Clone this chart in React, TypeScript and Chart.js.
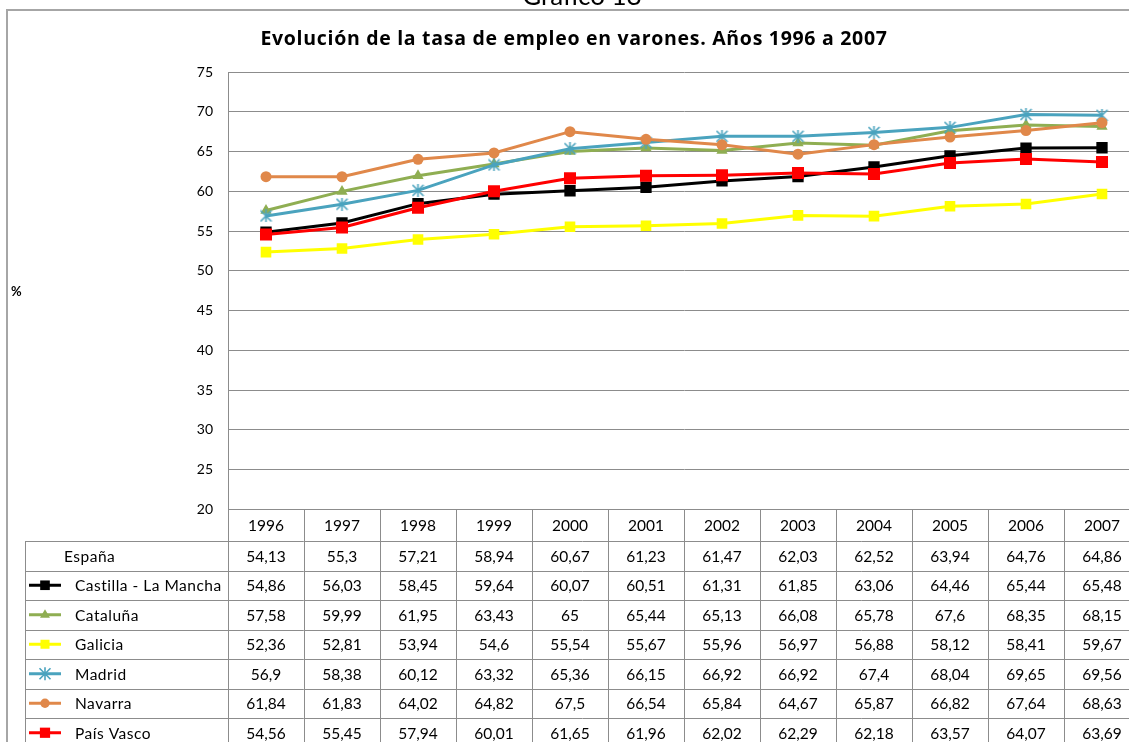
import React, { useEffect, useRef } from "react";
import { Chart, registerables } from "chart.js";

Chart.register(...registerables);

const years = ["1996", "1997", "1998", "1999", "2000", "2001", "2002", "2003", "2004", "2005", "2006", "2007"];
const espana = [54.13, 55.3, 57.21, 58.94, 60.67, 61.23, 61.47, 62.03, 62.52, 63.94, 64.76, 64.86];
const castilla = [54.86, 56.03, 58.45, 59.64, 60.07, 60.51, 61.31, 61.85, 63.06, 64.46, 65.44, 65.48];
const cataluna = [57.58, 59.99, 61.95, 63.43, 65, 65.44, 65.13, 66.08, 65.78, 67.6, 68.35, 68.15];
const galicia = [52.36, 52.81, 53.94, 54.6, 55.54, 55.67, 55.96, 56.97, 56.88, 58.12, 58.41, 59.67];
const madrid = [56.9, 58.38, 60.12, 63.32, 65.36, 66.15, 66.92, 66.92, 67.4, 68.04, 69.65, 69.56];
const navarra = [61.84, 61.83, 64.02, 64.82, 67.5, 66.54, 65.84, 64.67, 65.87, 66.82, 67.64, 68.63];
const paisVasco = [54.56, 55.45, 57.94, 60.01, 61.65, 61.96, 62.02, 62.29, 62.18, 63.57, 64.07, 63.69];

const title = "Evolución de la tasa de empleo en varones. Años 1996 a 2007";
const topTitle = "Gráfico 18";
const yTitle = "%";

const FONT = "Lato, 'Open Sans', sans-serif";
const TITLE_FONT = "'Open Sans', Lato, sans-serif";
const GRID = "#8c8c8c";

type Marker = "rect" | "triangle" | "circle" | "star";

function makeStar(color: string, size: number) {
  const c = document.createElement("canvas");
  c.width = size;
  c.height = size;
  const g = c.getContext("2d")!;
  g.strokeStyle = color;
  g.lineWidth = 1.6;
  g.beginPath();
  g.moveTo(1, 1);
  g.lineTo(size - 1, size - 1);
  g.moveTo(size - 1, 1);
  g.lineTo(1, size - 1);
  g.moveTo(size / 2, 0);
  g.lineTo(size / 2, size);
  g.stroke();
  return c;
}

const seriesDefs = [
  { name: "Castilla - La Mancha", data: castilla, color: "#000000", marker: "rect" as Marker, r: 8 },
  { name: "Cataluña", data: cataluna, color: "#8fae52", marker: "triangle" as Marker, r: 6.5 },
  { name: "Galicia", data: galicia, color: "#ffff00", marker: "rect" as Marker, r: 7.5 },
  { name: "Madrid", data: madrid, color: "#4aa3be", marker: "star" as Marker, r: 6 },
  { name: "Navarra", data: navarra, color: "#e0884a", marker: "circle" as Marker, r: 5.5 },
  { name: "País Vasco", data: paisVasco, color: "#ff0000", marker: "rect" as Marker, r: 8.5 },
];

function fmt(v: number) {
  return String(v).replace(".", ",");
}

function drawMarker(ctx: CanvasRenderingContext2D, m: Marker, x: number, y: number, r: number, color: string) {
  ctx.save();
  ctx.fillStyle = color;
  ctx.strokeStyle = color;
  if (m === "rect") {
    const s = Math.SQRT1_2 * r;
    ctx.fillRect(x - s, y - s, 2 * s, 2 * s);
  } else if (m === "triangle") {
    ctx.beginPath();
    ctx.moveTo(x, y - r);
    ctx.lineTo(x + r * 0.9, y + r * 0.55);
    ctx.lineTo(x - r * 0.9, y + r * 0.55);
    ctx.closePath();
    ctx.fill();
  } else if (m === "circle") {
    ctx.beginPath();
    ctx.arc(x, y, r, 0, Math.PI * 2);
    ctx.fill();
  } else {
    const h = 5.5;
    ctx.lineWidth = 1.6;
    ctx.beginPath();
    ctx.moveTo(x - h, y - h);
    ctx.lineTo(x + h, y + h);
    ctx.moveTo(x + h, y - h);
    ctx.lineTo(x - h, y + h);
    ctx.moveTo(x, y - h - 1);
    ctx.lineTo(x, y + h + 1);
    ctx.stroke();
  }
  ctx.restore();
}

const tablePlugin = {
  id: "tablePlugin",
  afterDraw(chart: any) {
    const ctx: CanvasRenderingContext2D = chart.ctx;
    const xs = chart.scales.x;
    const area = chart.chartArea;
    const n = years.length;
    const colW = xs.getPixelForValue(1) - xs.getPixelForValue(0);
    const left = xs.getPixelForValue(0) - colW / 2;
    const right = xs.getPixelForValue(n - 1) + colW / 2;
    const top = area.bottom;
    const rowTop0 = top + 31.5;
    const rowH = 29.5;
    const tableLeft = 25;
    const rows = [{ name: "España", data: espana, def: null as any }].concat(
      seriesDefs.map((d) => ({ name: d.name, data: d.data, def: d as any }))
    );
    const bottom = rowTop0 + rows.length * rowH;

    ctx.save();
    // outer frame
    ctx.strokeStyle = "#a6a6a6";
    ctx.lineWidth = 2;
    ctx.beginPath();
    ctx.moveTo(7, 760);
    ctx.lineTo(7, 10);
    ctx.lineTo(1200, 10);
    ctx.stroke();

    // table grid
    ctx.strokeStyle = GRID;
    ctx.lineWidth = 1;
    ctx.beginPath();
    for (let i = 0; i <= n; i++) {
      const x = Math.round(left + i * colW) + 0.5;
      ctx.moveTo(x, top);
      ctx.lineTo(x, bottom);
    }
    ctx.moveTo(tableLeft + 0.5, rowTop0);
    ctx.lineTo(tableLeft + 0.5, bottom);
    for (let r = 0; r <= rows.length; r++) {
      const y = Math.round(rowTop0 + r * rowH) + 0.5;
      ctx.moveTo(tableLeft, y);
      ctx.lineTo(right, y);
    }
    ctx.stroke();

    // values
    ctx.fillStyle = "#000";
    ctx.font = `15.5px ${FONT}`;
    ctx.textBaseline = "middle";
    rows.forEach((row, r) => {
      const cy = rowTop0 + r * rowH + rowH / 2 + 1;
      ctx.textAlign = "center";
      (ctx as any).letterSpacing = "0px";
      row.data.forEach((v: number, i: number) => {
        ctx.fillText(fmt(v), xs.getPixelForValue(i), cy);
      });
      ctx.textAlign = "left";
      (ctx as any).letterSpacing = "0.5px";
      if (row.def) {
        const d = row.def;
        ctx.strokeStyle = d.color;
        ctx.lineWidth = 3;
        ctx.beginPath();
        ctx.moveTo(29, cy - 1);
        ctx.lineTo(61, cy - 1);
        ctx.stroke();
        drawMarker(ctx, d.marker, 45, cy - 1, d.r * 0.85, d.color);
        ctx.fillStyle = "#000";
        ctx.fillText(row.name, 75, cy);
      } else {
        ctx.fillText(row.name, 64, cy);
      }
    });

    // titles
    ctx.textAlign = "center";
    ctx.textBaseline = "alphabetic";
    ctx.font = `bold 19.5px ${TITLE_FONT}`;
    (ctx as any).letterSpacing = "0.7px";
    ctx.fillText(title, 574, 45);
    (ctx as any).letterSpacing = "0px";
    ctx.font = `26px ${FONT}`;
    ctx.fillText(topTitle, 582, 5);
    ctx.font = `bold 13px ${FONT}`;
    ctx.textAlign = "left";
    ctx.textBaseline = "middle";
    ctx.fillText(yTitle, 11, 292);
    ctx.restore();
  },
};

export default function App() {
  const ref = useRef<HTMLCanvasElement | null>(null);
  useEffect(() => {
    if (!ref.current) return;
    const n = seriesDefs.length;
    const chart = new Chart(ref.current, {
      type: "line",
      data: {
        labels: years,
        datasets: seriesDefs.map((d, i) => ({
          label: d.name,
          data: d.data,
          borderColor: d.color,
          backgroundColor: d.color,
          borderWidth: 3,
          pointStyle: d.marker === "star" ? (makeStar(d.color, 13) as any) : d.marker,
          pointRadius: d.r,
          pointBorderWidth: 0,
          pointBorderColor: d.color,
          pointBackgroundColor: d.color,
          tension: 0,
          order: n - i,
        })),
      },
      options: {
        responsive: false,
        animation: false,
        layout: { padding: { left: 0, top: 72, right: 10, bottom: 0 } },
        plugins: {
          legend: { display: false },
          title: { display: false },
          tooltip: { enabled: false },
        },
        scales: {
          x: {
            type: "category",
            offset: true,
            grid: { display: false, drawTicks: false },
            border: { display: true, color: GRID, width: 1 },
            ticks: { color: "#000", font: { family: FONT, size: 15.5 }, padding: 7, maxRotation: 0, autoSkip: false },
            afterFit: (s: any) => {
              s.height = 742 - 509.5;
            },
          },
          y: {
            min: 20,
            max: 75,
            ticks: { stepSize: 5, color: "#000", font: { family: FONT, size: 14 }, padding: 15 },
            grid: { color: GRID, lineWidth: 1, drawTicks: false },
            border: { display: true, color: GRID, width: 1 },
            afterFit: (s: any) => {
              s.width = 228;
            },
          },
        },
      },
      plugins: [tablePlugin],
    });
    return () => chart.destroy();
  }, []);
  return (
    <div style={{ position: "absolute", left: 0, top: 0, width: 1129, height: 742, overflow: "hidden", background: "#fff" }}>
      <canvas ref={ref} width={1150} height={742} style={{ width: 1150, height: 742, display: "block" }} />
    </div>
  );
}
